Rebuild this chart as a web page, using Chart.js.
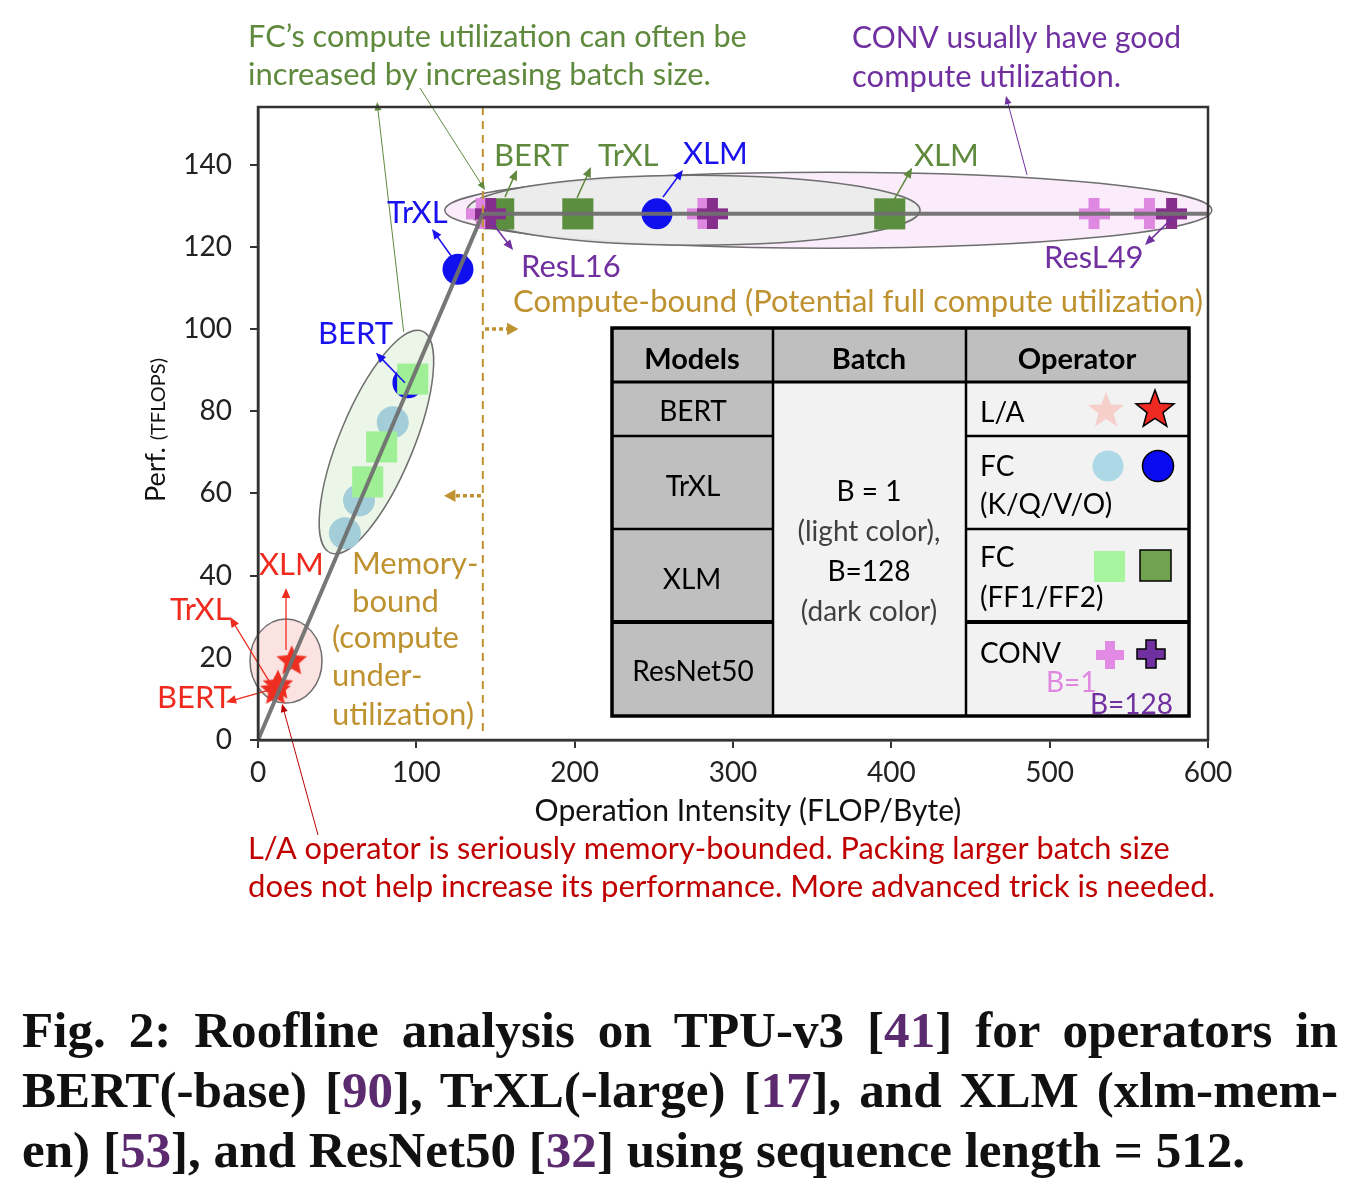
<!DOCTYPE html>
<html><head><meta charset="utf-8">
<script src="https://cdn.jsdelivr.net/npm/chart.js@4"></script>
<style>
html,body{margin:0;padding:0;background:#fff}
body{width:1364px;height:1184px;overflow:hidden;position:relative}
#c{position:absolute;left:0;top:0}
#ov{position:absolute;left:0;top:0;pointer-events:none}
.cap{position:absolute;left:22px;width:1316px;height:60px;line-height:60px;white-space:nowrap;font-family:"Liberation Serif","DejaVu Serif",serif;font-weight:bold;color:#111}
.cap.j{text-align:justify;text-align-last:justify;white-space:normal}
.ref{color:#5c2a6e}
</style></head><body>
<canvas id="c" width="1364" height="960"></canvas>
<svg id="ov" width="1364" height="960" xmlns="http://www.w3.org/2000/svg"></svg>
<div class="cap j" id="cap1" style="top:1000px">Fig. 2: Roofline analysis on TPU-v3 [<span class="ref">41</span>] for operators in</div>
<div class="cap j" id="cap2" style="top:1060px">BERT(-base) [<span class="ref">90</span>], TrXL(-large) [<span class="ref">17</span>], and XLM (xlm-mem-</div>
<div class="cap" id="cap3" style="top:1120px">en) [<span class="ref">53</span>], and ResNet50 [<span class="ref">32</span>] using sequence length = 512.</div>
<script>
// ---------- data ----------
const xTicks = [0, 100, 200, 300, 400, 500, 600];
const yTicks = [0, 20, 40, 60, 80, 100, 120, 140];
const roofX = [0, 142, 600];
const roofY = [0, 128, 128];
// L/A (B=128) : BERT, TrXL, XLM
const laDarkX = [11.0, 12.6, 21.3];
const laDarkY = [12.2, 13.5, 19.4];
// FC K/Q/V/O (B=128): BERT, TrXL, XLM
const fcqDarkX = [94.7, 126.3, 252];
const fcqDarkY = [86.9, 114.5, 128];
// FC K/Q/V/O (B=1)
const fcqLightX = [54.9, 63.8, 85.1];
const fcqLightY = [50.3, 58.3, 77.3];
// FC FF1/FF2 (B=1)
const ffLightX = [69.3, 78.1, 97.7];
const ffLightY = [62.8, 71.3, 87.8];
// FC FF1/FF2 (B=128): BERT, TrXL, XLM
const ffDarkX = [152, 202, 399];
const ffDarkY = [128, 128, 128];
// CONV ResNet50 (B=1)
const convLightX = [141, 281, 528, 563];
const convLightY = [128, 128, 128, 128];
// CONV ResNet50 (B=128)
const convDarkX = [147, 287, 577];
const convDarkY = [128, 128, 128];

// ---------- styles ----------
const GREEN = '#5f8a3d', PURPLE = '#7030a0', BLUE = '#1a12ee', RED = '#ee2b1e', DRED = '#c00000', GOLD = '#bf9230';
const ANN_FONT = 'Lato, "Open Sans", sans-serif';

const pts = (xs, ys) => xs.map((x, i) => ({x, y: ys[i]}));

function starCanvas(r, fill) {
  const s = Math.ceil(r * 2 + 4), c = document.createElement('canvas');
  c.width = c.height = s; const g = c.getContext('2d');
  g.beginPath();
  for (let i = 0; i < 10; i++) {
    const rr = i % 2 ? r * 0.47 : r, a = -Math.PI / 2 + i * Math.PI / 5;
    g.lineTo(s / 2 + rr * Math.cos(a), s / 2 + 1 + rr * Math.sin(a));
  }
  g.closePath(); g.fillStyle = fill; g.fill();
  return c;
}
function plusCanvas(size, arm, fill) {
  const c = document.createElement('canvas'); c.width = c.height = size;
  const g = c.getContext('2d'); g.fillStyle = fill;
  g.fillRect((size - arm) / 2, 0, arm, size); g.fillRect(0, (size - arm) / 2, size, arm);
  return c;
}
const starImg = starCanvas(16, '#ef2e22');
const plusDark = plusCanvas(31, 11, '#862e8c');
const plusLight = plusCanvas(31, 11, '#df88e2');

// ---------- annotations (data coordinates, radii in px) ----------
const ellipses = [
  {x: 360.2, y: 128.9, rx: 383.5, ry: 38, rot: 0, fill: '#faecfa', stroke: '#6e6e6e'},
  {x: 275.1, y: 128.9, rx: 226.5, ry: 35, rot: 0, fill: 'rgba(236,236,236,0.92)', stroke: '#6e6e6e'},
  {x: 74.8, y: 72.5, rx: 120, ry: 37, rot: -67.5, fill: '#ebf6e8', stroke: '#6e6e6e'},
  {x: 17.7, y: 19.2, rx: 36, ry: 42, rot: 0, fill: '#fbe3e1', stroke: '#6e6e6e'}
];
const notes = [
  ['FC’s compute utilization can often be', -6.3, 171.0, GREEN, 499],
  ['increased by increasing batch size.', -6.3, 161.8, GREEN, 463],
  ['CONV usually have good', 375.2, 170.8, PURPLE, 329],
  ['compute utilization.', 375.2, 161.3, PURPLE, 269],
  ['BERT', 149.1, 142.1, GREEN],
  ['TrXL', 214.7, 142.1, GREEN],
  ['XLM', 268.4, 142.6, BLUE],
  ['XLM', 414.3, 142.1, GREEN],
  ['TrXL', 81.5, 128.2, BLUE],
  ['ResL16', 166.1, 115.1, PURPLE],
  ['ResL49', 496.4, 117.3, PURPLE],
  ['Compute-bound (Potential full compute utilization)', 161.1, 106.6, GOLD, 690],
  ['BERT', 37.9, 98.8, BLUE],
  ['Memory-', 59.4, 42.8, GOLD],
  ['bound', 59.4, 33.6, GOLD],
  ['(compute', 46.7, 24.8, GOLD],
  ['under-', 46.7, 15.6, GOLD],
  ['utilization)', 46.7, 6.1, GOLD],
  ['XLM', 0.6, 42.6, RED],
  ['TrXL', -55.6, 31.6, RED],
  ['BERT', -63.8, 10.2, RED],
  ['L/A operator is seriously memory-bounded. Packing larger batch size', -6.3, -26.5, DRED, 922],
  ['does not help increase its performance. More advanced trick is needed.', -6.3, -35.8, DRED, 967]
];
const arrows = [
  [92.0, 99.3, 75.2, 155.2, GREEN, 1],
  [102.3, 158.6, 143.4, 133.8, GREEN, 1],
  [485.7, 137.5, 472.4, 156.7, PURPLE, 1],
  [156, 132.1, 163.6, 138.7, GREEN, 1.5],
  [201.5, 131.9, 210.3, 139.4, GREEN, 1.5],
  [255.8, 132.1, 268.4, 138.7, BLUE, 1.5],
  [399.2, 129.7, 413.1, 139.2, GREEN, 1.5],
  [122.5, 117.5, 109.9, 124.3, BLUE, 1.5],
  [146.5, 126.5, 161.1, 119.2, PURPLE, 1.5],
  [577.9, 127.2, 560.2, 120.4, PURPLE, 1.5],
  [92.8, 86.9, 74.5, 94.2, BLUE, 1.5],
  [17.7, 21.9, 17.7, 37.0, RED, 1.3],
  [6.9, 14.4, -17.7, 29.9, RED, 1.3],
  [7.6, 12.2, -20.2, 9.2, RED, 1.3],
  [37.9, -23.1, 15.2, 8.8, DRED, 1]
];
const dotted = [[143.4, 100, 164.5, 100], [140.8, 59.4, 117.5, 59.4]];
const ridgeX = 142;

function arrowHead(ctx, x1, y1, x2, y2, len, color, spread) {
  const a = Math.atan2(y2 - y1, x2 - x1), s = spread || 0.4;
  ctx.beginPath();
  ctx.moveTo(x2, y2);
  ctx.lineTo(x2 - len * Math.cos(a - s), y2 - len * Math.sin(a - s));
  ctx.lineTo(x2 - len * Math.cos(a + s), y2 - len * Math.sin(a + s));
  ctx.closePath(); ctx.fillStyle = color; ctx.fill();
}
function fitSize(ctx, text, w, weight) {
  ctx.font = (weight || '') + ' 100px ' + ANN_FONT;
  return 100 * w / ctx.measureText(text).width;
}

const annot = {
  id: 'annot',
  beforeDatasetsDraw(ch) {
    const ctx = ch.ctx, xs = ch.scales.x, ys = ch.scales.y;
    ctx.save();
    for (const e of ellipses) {
      ctx.beginPath();
      ctx.ellipse(xs.getPixelForValue(e.x), ys.getPixelForValue(e.y), e.rx, e.ry, e.rot * Math.PI / 180, 0, 2 * Math.PI);
      ctx.fillStyle = e.fill; ctx.fill();
      ctx.lineWidth = 1.5; ctx.strokeStyle = e.stroke; ctx.stroke();
    }
    ctx.restore();
  },
  afterDatasetsDraw(ch) {
    const ctx = ch.ctx, xs = ch.scales.x, ys = ch.scales.y, A = ch.chartArea;
    const X = v => xs.getPixelForValue(v), Y = v => ys.getPixelForValue(v);
    ctx.save();
    // ridge dashed line
    ctx.setLineDash([8, 6]); ctx.strokeStyle = GOLD; ctx.lineWidth = 2;
    ctx.beginPath(); ctx.moveTo(X(ridgeX), A.top); ctx.lineTo(X(ridgeX), A.bottom - 8); ctx.stroke();
    // dotted arrows
    ctx.setLineDash([4, 3]); ctx.lineWidth = 3.5;
    for (const d of dotted) {
      const x1 = X(d[0]), y1 = Y(d[1]), x2 = X(d[2]), y2 = Y(d[3]);
      const dir = Math.sign(x2 - x1);
      ctx.beginPath(); ctx.moveTo(x1, y1); ctx.lineTo(x2 - dir * 10, y2); ctx.stroke();
      arrowHead(ctx, x1, y1, x2, y2, 13, GOLD, 0.5);
    }
    ctx.setLineDash([]);
    // arrows
    for (const a of arrows) {
      const x1 = X(a[0]), y1 = Y(a[1]), x2 = X(a[2]), y2 = Y(a[3]);
      ctx.strokeStyle = a[4]; ctx.lineWidth = a[5];
      const ang = Math.atan2(y2 - y1, x2 - x1);
      ctx.beginPath(); ctx.moveTo(x1, y1); ctx.lineTo(x2 - 6 * Math.cos(ang), y2 - 6 * Math.sin(ang)); ctx.stroke();
      arrowHead(ctx, x1, y1, x2, y2, a[5] > 1.2 ? 11 : 9, a[4]);
    }
    // frame
    ctx.strokeStyle = '#333'; ctx.lineWidth = 2.5;
    ctx.strokeRect(A.left, A.top, A.right - A.left, A.bottom - A.top);
    // texts
    const S0 = fitSize(ctx, notes[11][0], notes[11][4]);
    ctx.textBaseline = 'middle'; ctx.textAlign = 'left';
    for (const n of notes) {
      const size = n[4] ? fitSize(ctx, n[0], n[4]) : S0;
      ctx.font = size.toFixed(2) + 'px ' + ANN_FONT;
      ctx.fillStyle = n[3];
      ctx.fillText(n[0], X(n[1]), Y(n[2]));
    }
    // axis titles
    ctx.fillStyle = '#111';
    const xt = 'Operation Intensity (FLOP/Byte)';
    ctx.font = fitSize(ctx, xt, 427).toFixed(2) + 'px ' + ANN_FONT;
    ctx.textAlign = 'center';
    ctx.fillText(xt, (A.left + A.right) / 2 + 15, A.bottom + 71);
    ctx.translate(A.left - 93, A.bottom - 238);
    ctx.rotate(-Math.PI / 2);
    ctx.textAlign = 'left'; ctx.textBaseline = 'alphabetic';
    ctx.font = '27px ' + ANN_FONT;
    ctx.fillText('Perf.', 0, 0);
    const pw = ctx.measureText('Perf. ').width;
    ctx.font = '20px ' + ANN_FONT;
    ctx.fillText('(TFLOPS)', pw, 0);
    ctx.restore();
  }
};

const tickFont = {family: ANN_FONT, size: 28};
new Chart(document.getElementById('c'), {
  type: 'scatter',
  data: {
    datasets: [
      {type: 'line', label: 'Roofline', data: pts(roofX, roofY), borderColor: 'rgba(112,112,112,0.95)', borderWidth: 4, pointRadius: 0, fill: false, order: 0},
      {label: 'CONV B=128', data: pts(convDarkX, convDarkY), pointStyle: plusDark, order: 1},
      {label: 'CONV B=1', data: pts(convLightX, convLightY), pointStyle: plusLight, order: 2},
      {label: 'L/A B=128', data: pts(laDarkX, laDarkY), pointStyle: starImg, order: 3},
      {label: 'FC FF B=1', data: pts(ffLightX, ffLightY), pointStyle: 'rect', pointRadius: 22, backgroundColor: '#9fef96', borderWidth: 0, order: 4},
      {label: 'FC KQVO B=1', data: pts(fcqLightX, fcqLightY), pointStyle: 'circle', pointRadius: 16, backgroundColor: '#a3cdd8', borderWidth: 0, order: 5},
      {label: 'FC KQVO B=128', data: pts(fcqDarkX, fcqDarkY), pointStyle: 'circle', pointRadius: 15.5, backgroundColor: '#1010ee', borderWidth: 0, order: 6},
      {label: 'FC FF B=128', data: pts(ffDarkX, ffDarkY), pointStyle: 'rect', pointRadius: 22, backgroundColor: '#5b8e3e', borderWidth: 0, order: 7}
    ]
  },
  options: {
    responsive: false, animation: false, devicePixelRatio: 1,
    layout: {padding: {left: 0, top: 107, right: 156, bottom: 0}},
    plugins: {legend: {display: false}, tooltip: {enabled: false}},
    scales: {
      x: {
        type: 'linear', min: 0, max: 600,
        afterBuildTicks: s => { s.ticks = xTicks.map(v => ({value: v})); },
        afterFit: s => { s.height = 220; },
        ticks: {font: tickFont, color: '#222', padding: 8},
        grid: {display: true, drawOnChartArea: false, drawTicks: true, tickLength: 8, color: '#333', lineWidth: 2},
        border: {display: true, color: '#333', width: 2.5}
      },
      y: {
        type: 'linear', min: 0, max: 154,
        afterBuildTicks: s => { s.ticks = yTicks.map(v => ({value: v})); },
        afterFit: s => { s.width = 258; },
        ticks: {font: tickFont, color: '#222', padding: 18},
        grid: {display: true, drawOnChartArea: false, drawTicks: true, tickLength: 8, color: '#333', lineWidth: 2},
        border: {display: true, color: '#333', width: 2.5}
      }
    }
  },
  plugins: [annot]
});

// ---------- legend table (SVG overlay) ----------
const NS = 'http://www.w3.org/2000/svg';
const ov = document.getElementById('ov');
function el(tag, attrs, text) {
  const e = document.createElementNS(NS, tag);
  for (const k in attrs) e.setAttribute(k, attrs[k]);
  if (text !== undefined) e.textContent = text;
  ov.appendChild(e); return e;
}
const T = {l: 612, t: 328, r: 1189, b: 716, c1: 773, c2: 966, h: 382, rows: [436, 529, 622]};
const GRAYC = '#bfbfbf', LIGHTC = '#f2f2f2';
el('rect', {x: T.l, y: T.t, width: T.r - T.l, height: T.h - T.t, fill: GRAYC});
el('rect', {x: T.l, y: T.h, width: T.c1 - T.l, height: T.b - T.h, fill: GRAYC});
el('rect', {x: T.c1, y: T.h, width: T.r - T.c1, height: T.b - T.h, fill: LIGHTC});
const line = (x1, y1, x2, y2, w) => el('line', {x1, y1, x2, y2, stroke: '#000', 'stroke-width': w});
line(T.c1, T.t, T.c1, T.b, 2.5); line(T.c2, T.t, T.c2, T.b, 2.5);
line(T.l, T.h, T.r, T.h, 3);
for (let i = 0; i < 3; i++) {
  const w = i === 2 ? 4 : 2.5;
  line(T.l, T.rows[i], T.c1, T.rows[i], w);
  line(T.c2, T.rows[i], T.r, T.rows[i], w);
}
el('rect', {x: T.l, y: T.t, width: T.r - T.l, height: T.b - T.t, fill: 'none', stroke: '#000', 'stroke-width': 3.5});

const tf = 'Lato, "Open Sans", sans-serif';
const tt = (s, x, y, o = {}) => el('text', {x, y, 'font-family': tf, 'font-size': o.size || 28, 'font-weight': o.bold ? 'bold' : 'normal', fill: o.color || '#000', 'text-anchor': o.anchor || 'middle', 'dominant-baseline': 'central'}, s);
tt('Models', 692, 357, {bold: true, size: 29});
tt('Batch', 869, 357, {bold: true, size: 29});
tt('Operator', 1077, 357, {bold: true, size: 29});
tt('BERT', 693, 410); tt('TrXL', 693, 485); tt('XLM', 692, 578); tt('ResNet50', 693, 670);
tt('B = 1', 869, 490); tt('(light color),', 869, 530, {color: '#404040'});
tt('B=128', 869, 570); tt('(dark color)', 869, 610, {color: '#404040'});
tt('L/A', 980, 411, {anchor: 'start'});
tt('FC', 980, 465, {anchor: 'start'}); tt('(K/Q/V/O)', 980, 503, {anchor: 'start'});
tt('FC', 980, 556, {anchor: 'start'}); tt('(FF1/FF2)', 980, 596, {anchor: 'start'});
tt('CONV', 980, 652, {anchor: 'start'});
tt('B=1', 1046, 681, {anchor: 'start', color: '#df86e0'});
tt('B=128', 1090, 703, {anchor: 'start', color: '#7030a0'});
function starPath(cx, cy, r) {
  let d = '';
  for (let i = 0; i < 10; i++) {
    const rr = i % 2 ? r * 0.42 : r, a = -Math.PI / 2 + i * Math.PI / 5;
    d += (i ? 'L' : 'M') + (cx + rr * Math.cos(a)).toFixed(1) + ',' + (cy + 2 + rr * Math.sin(a)).toFixed(1);
  }
  return d + 'Z';
}
function plusPath(cx, cy, s, a) {
  const h = s / 2, q = a / 2;
  return `M${cx - q},${cy - h}H${cx + q}V${cy - q}H${cx + h}V${cy + q}H${cx + q}V${cy + h}H${cx - q}V${cy + q}H${cx - h}V${cy - q}H${cx - q}Z`;
}
el('path', {d: starPath(1106, 409, 19), fill: '#f6cfcb'});
el('path', {d: starPath(1155, 408, 20), fill: '#ee2a22', stroke: '#000', 'stroke-width': 1.5});
el('circle', {cx: 1108, cy: 466, r: 15.5, fill: '#add8e6'});
el('circle', {cx: 1158, cy: 466, r: 15.5, fill: '#0a0af0', stroke: '#000', 'stroke-width': 1.5});
el('rect', {x: 1094, y: 551, width: 31, height: 31, fill: '#a8f5a0'});
el('rect', {x: 1140, y: 550, width: 31, height: 31, fill: '#70a24f', stroke: '#000', 'stroke-width': 1.5});
el('path', {d: plusPath(1110, 655, 28, 10), fill: '#e28ae4'});
el('path', {d: plusPath(1151, 654, 28, 10), fill: '#7030a0', stroke: '#000', 'stroke-width': 1.5});

// ---------- caption sizing ----------
(function () {
  const c = document.createElement('canvas').getContext('2d');
  c.font = 'bold 40px "Liberation Serif", "DejaVu Serif", serif';
  const w = c.measureText('en) [53], and ResNet50 [32] using sequence length = 512.').width;
  const fs = 40 * 1223 / w;
  for (const id of ['cap1', 'cap2', 'cap3']) document.getElementById(id).style.fontSize = fs.toFixed(2) + 'px';
})();
</script>
</body></html>
